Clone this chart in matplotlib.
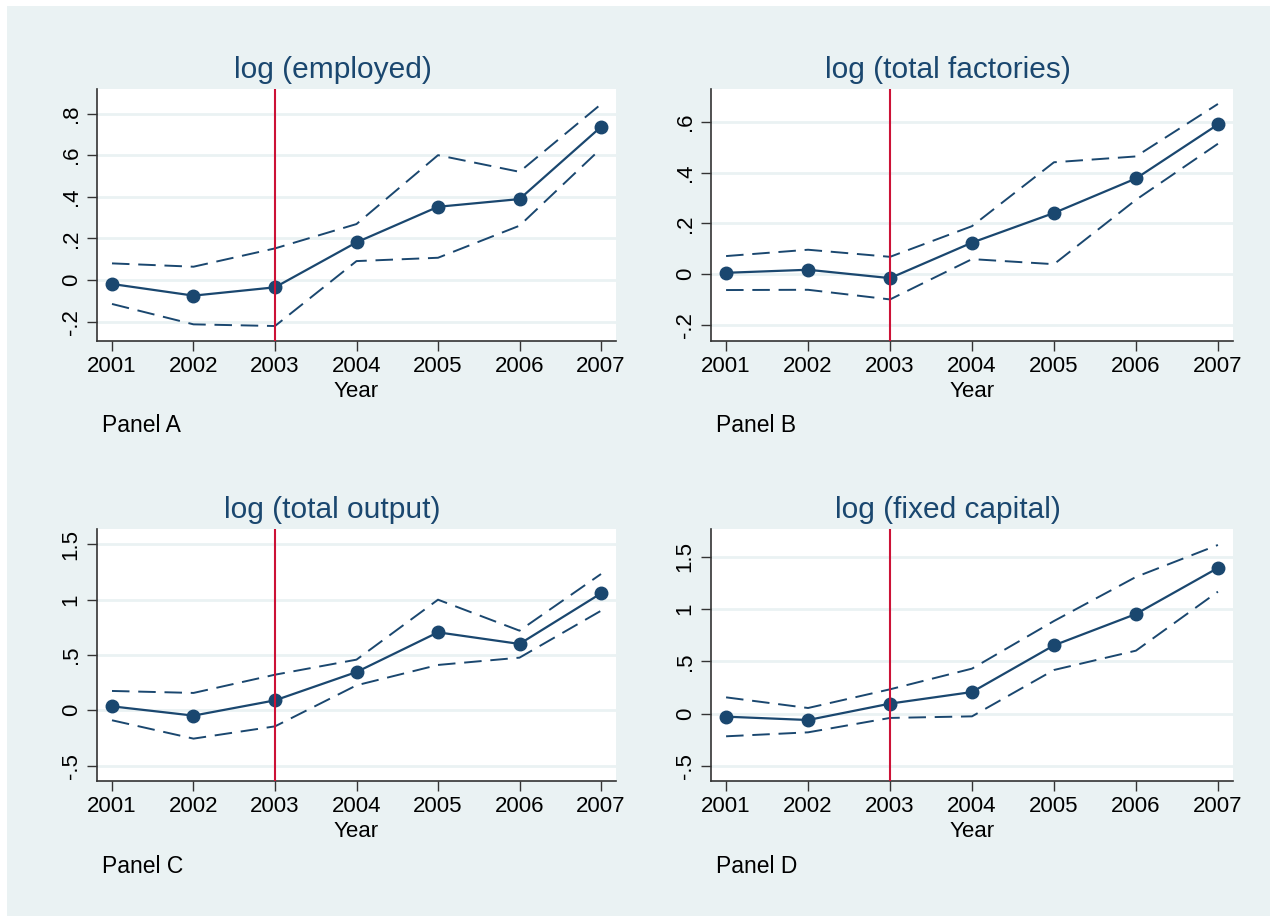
import matplotlib.pyplot as plt
from matplotlib.patches import Rectangle

plt.rcParams['font.family'] = ['Liberation Sans', 'DejaVu Sans']

years = [2001, 2002, 2003, 2004, 2005, 2006, 2007]

# point estimates with upper / lower confidence bounds
employed = [-0.019, -0.075, -0.035, 0.181, 0.352, 0.389, 0.736]
employed_hi = [0.080, 0.064, 0.152, 0.269, 0.600, 0.520, 0.845]
employed_lo = [-0.115, -0.213, -0.221, 0.091, 0.107, 0.261, 0.632]

factories = [0.005, 0.017, -0.016, 0.124, 0.241, 0.377, 0.590]
factories_hi = [0.071, 0.096, 0.068, 0.189, 0.441, 0.464, 0.671]
factories_lo = [-0.063, -0.062, -0.100, 0.059, 0.039, 0.293, 0.514]

output = [0.036, -0.048, 0.090, 0.346, 0.705, 0.600, 1.057]
output_hi = [0.175, 0.157, 0.322, 0.458, 1.000, 0.720, 1.232]
output_lo = [-0.090, -0.256, -0.145, 0.226, 0.410, 0.476, 0.900]

capital = [-0.029, -0.061, 0.096, 0.207, 0.654, 0.954, 1.395]
capital_hi = [0.156, 0.054, 0.233, 0.431, 0.887, 1.309, 1.615]
capital_lo = [-0.217, -0.179, -0.041, -0.026, 0.418, 0.603, 1.168]

titles = ['log (employed)', 'log (total factories)', 'log (total output)', 'log (fixed capital)']
panel_names = ['Panel A', 'Panel B', 'Panel C', 'Panel D']

ticks_a = [-0.2, 0, 0.2, 0.4, 0.6, 0.8]
ticklabels_a = ['-.2', '0', '.2', '.4', '.6', '.8']
ticks_b = [-0.2, 0, 0.2, 0.4, 0.6]
ticklabels_b = ['-.2', '0', '.2', '.4', '.6']
ticks_big = [-0.5, 0, 0.5, 1, 1.5]
ticklabels_big = ['-.5', '0', '.5', '1', '1.5']

NAVY = '#1A476F'
RED = '#CC1236'
BG = '#EAF2F3'

W, H = 1276, 922
fig = plt.figure(figsize=(W / 100, H / 100), dpi=100)
fig.patch.set_facecolor('white')
# light graph-region band inside a thin white margin
fig.patches.append(Rectangle((7 / W, 6 / H), (1270 - 7) / W, (916 - 6) / H,
                             transform=fig.transFigure, facecolor=BG,
                             edgecolor='none', zorder=-10))

def px_box(left, right, top, bottom):
    return [left / W, 1 - bottom / H, (right - left) / W, (bottom - top) / H]

boxes = [px_box(97, 616, 89, 341), px_box(711, 1233, 89, 341),
         px_box(97, 616, 529, 781), px_box(711, 1233, 529, 781)]
ylims = [(-0.293, 0.918), (-0.264, 0.730), (-0.639, 1.639), (-0.645, 1.768)]
yticks = [(ticks_a, ticklabels_a), (ticks_b, ticklabels_b),
          (ticks_big, ticklabels_big), (ticks_big, ticklabels_big)]
series = [(employed, employed_hi, employed_lo),
          (factories, factories_hi, factories_lo),
          (output, output_hi, output_lo),
          (capital, capital_hi, capital_lo)]
label_pos = [(102, 432), (716, 432), (102, 873), (716, 873)]

for i in range(4):
    ax = fig.add_axes(boxes[i])
    est, hi, lo = series[i]
    ax.set_facecolor('white')
    ax.plot(years, hi, color=NAVY, lw=1.4, dashes=(9, 4.5), zorder=3)
    ax.plot(years, lo, color=NAVY, lw=1.4, dashes=(9, 4.5), zorder=3)
    ax.plot(years, est, color=NAVY, lw=1.6, marker='o', ms=9, zorder=4)
    ax.axvline(2003, color=RED, lw=1.5, zorder=5)

    ax.set_xticks(years)
    ax.set_xticklabels([str(y) for y in years])
    ax.set_yticks(yticks[i][0])
    ax.set_yticklabels(yticks[i][1], rotation=90, va='center')
    ax.set_xlim(2000.816, 2007.184)
    ax.set_ylim(*ylims[i])
    ax.grid(axis='y', color=BG, lw=2, zorder=1)
    ax.set_axisbelow(True)

    for side in ['top', 'right']:
        ax.spines[side].set_visible(False)
    for side in ['left', 'bottom']:
        ax.spines[side].set_color('#333333')
        ax.spines[side].set_linewidth(1.2)
    ax.tick_params(length=7, width=1, color='#333333', labelsize=16, pad=4)

    ax.set_xlabel('Year', fontsize=16, labelpad=3)
    ax.set_title(titles[i], fontsize=21.5, color=NAVY, x=0.454, pad=8)
    fig.text(label_pos[i][0] / W, 1 - label_pos[i][1] / H, panel_names[i],
             fontsize=16.5, va='baseline', ha='left')

fig.savefig('out.png', dpi=100, facecolor=fig.get_facecolor())
